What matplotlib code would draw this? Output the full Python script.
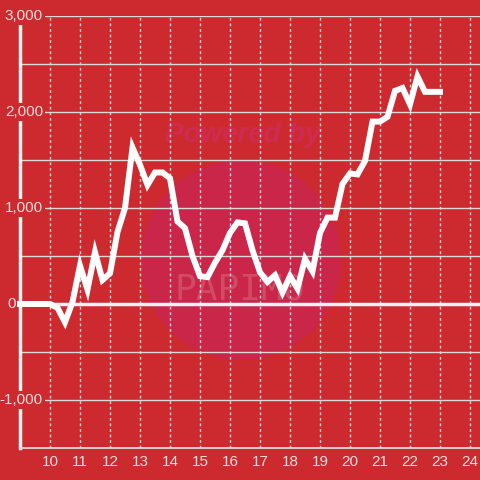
import numpy as np
import matplotlib
matplotlib.use('Agg')
import matplotlib.pyplot as plt
from matplotlib.patches import Circle

# data
hours = [9.0, 9.25, 9.5, 9.75, 10.0, 10.25, 10.5, 10.75, 11.0, 11.25, 11.5, 11.75,
         12.0, 12.25, 12.5, 12.75, 13.0, 13.25, 13.5, 13.75, 14.0, 14.25, 14.5, 14.75,
         15.0, 15.25, 15.5, 15.75, 16.0, 16.25, 16.5, 16.75, 17.0, 17.25, 17.5, 17.75,
         18.0, 18.25, 18.5, 18.75, 19.0, 19.25, 19.5, 19.75, 20.0, 20.25, 20.5, 20.75,
         21.0, 21.25, 21.5, 21.75, 22.0, 22.25, 22.5, 22.75, 23.0]
balance = [0, 0, 0, 0, 0, -40, -190, 20, 400, 150, 540, 250,
           320, 750, 1000, 1630, 1450, 1240, 1370, 1370, 1310, 860, 790, 500,
           290, 280, 430, 560, 740, 850, 840, 560, 330, 230, 300, 120,
           290, 160, 470, 340, 740, 900, 900, 1250, 1360, 1350, 1490, 1900,
           1900, 1950, 2220, 2250, 2080, 2370, 2210, 2210, 2210]
x_ticks = list(range(10, 25))
y_labels = [3000, 2000, 1000, -1000]
y_grid = [-1000, -500, 500, 1000, 1500, 2000, 2500, 3000]

bg = '#cc2a2e'
txt = '#f3dede'
grid = '#d9d9d9'

plt.rcParams['font.family'] = ['Liberation Sans', 'DejaVu Sans']

fig = plt.figure(figsize=(4.8, 4.8), dpi=100, facecolor=bg)
ax = fig.add_axes([20/480, 32/480, 460/480, 432/480])
ax.set_facecolor(bg)
ax.set_xlim(9, 9 + 460/30)
ax.set_ylim(-1500, 3000)

# watermark, faint
circ = Circle((241/480, 220/480), 100/480, transform=fig.transFigure,
              facecolor='#c9264a', edgecolor='none', zorder=0.5)
ax.add_patch(circ)
ax.text(243/480, 345/480, 'Powered by', transform=fig.transFigure, ha='center',
        va='center', fontsize=20, fontweight='bold', style='italic',
        color='#cf2a52', zorder=0.6)
ax.text(240/480, 190/480, 'PAPIMO', transform=fig.transFigure, ha='center',
        va='center', fontsize=26, color='#d24a66', zorder=0.6,
        family='DejaVu Sans Mono')

for v in y_grid:
    ax.axhline(v, color=grid, lw=1, zorder=1)
for t in x_ticks:
    ax.axvline(t, color=grid, lw=1, ls=(0, (2, 2)), zorder=1)
ax.axhline(0, color='#f2f2f2', lw=2.5, zorder=1.5)

for s in ['top', 'right']:
    ax.spines[s].set_visible(False)
ax.spines['left'].set_color('#f2f2f2')
ax.spines['left'].set_linewidth(2.5)
ax.spines['left'].set_bounds(-1500, 2920)
ax.spines['bottom'].set_color(grid)
ax.spines['bottom'].set_linewidth(1.3)

ax.set_xticks(x_ticks)
ax.set_xticklabels([str(t) for t in x_ticks])
ax.tick_params(axis='x', length=0, colors=txt, labelsize=11, pad=5)
ax.set_yticks([])

for v in y_labels:
    ax.text(9 + 23/30, v, f'{v:,}', ha='right', va='center', fontsize=11,
            color=txt, zorder=3,
            bbox=dict(facecolor=bg, edgecolor='none', pad=1.2))
ax.text(9 - 4/30, 0, '0', ha='right', va='center', fontsize=11, color=txt,
        zorder=3, clip_on=False)

ax.plot(hours, balance, color='white', lw=4.3, zorder=4,
        solid_joinstyle='miter', solid_capstyle='projecting', clip_on=False)

fig.savefig('out.png', dpi=100, facecolor=bg)
